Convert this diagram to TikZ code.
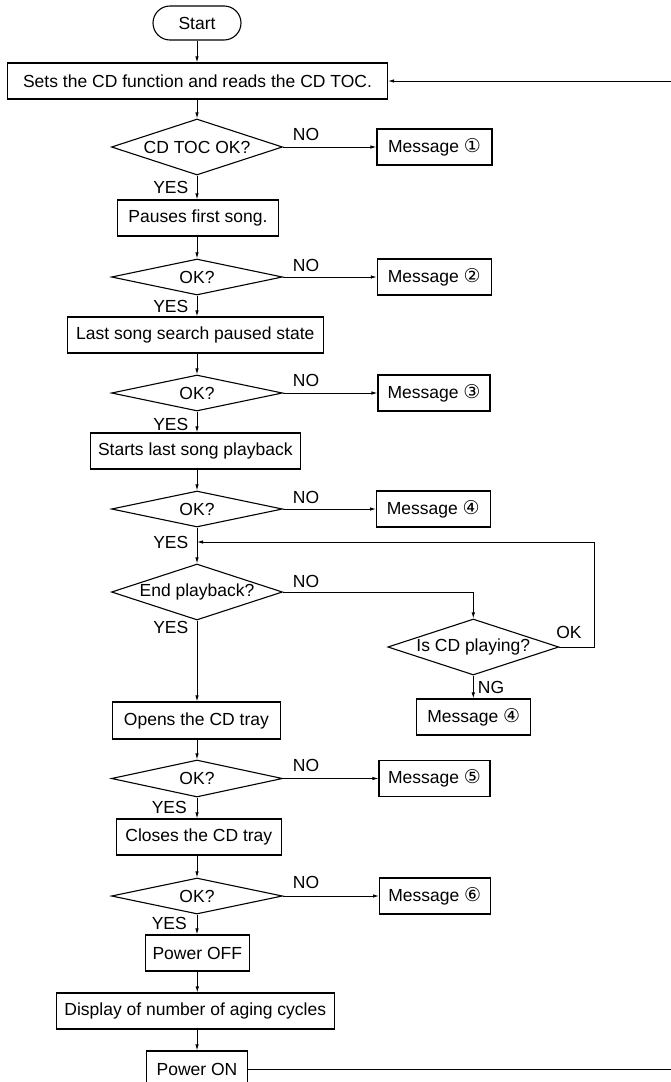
\documentclass[tikz,border=0pt]{standalone}
\usepackage{fontspec}
\setmainfont{Liberation Sans}
\newfontfamily\circfont{DejaVu Sans}
\usetikzlibrary{shapes.geometric,arrows.meta}
\newcommand{\circd}[1]{{\circfont\fontsize{19}{19}\selectfont #1}}
\begin{document}
\begin{tikzpicture}[x=1pt,y=-1pt,
  every node/.style={font=\fontsize{17.5}{21}\selectfont, inner sep=0pt},
  box/.style={draw, line width=1.1pt, minimum height=36pt},
  dec/.style={draw, diamond, line width=1.1pt, aspect=3, minimum width=171pt},
  conn/.style={line width=0.9pt, -{Latex[length=6pt,width=3.5pt]}},
  plain/.style={line width=0.9pt}
]
\useasboundingbox (0,0) rectangle (671,1082);

% main column
\node[box, rounded corners=17pt, minimum width=88pt, minimum height=34pt] (start) at (197,23) {Start};
\node[box, minimum width=380pt] (b1) at (197.5,81) {Sets the CD function and reads the CD TOC.};
\node[dec, minimum height=56pt] (d1) at (197,147) {CD TOC OK?};
\node[box, minimum width=161pt] (b2) at (198,218) {Pauses first song.};
\node[dec, minimum height=36pt] (d2) at (197,277) {OK?};
\node[box, minimum width=255.5pt] (b3) at (195.3,335) {Last song search paused state};
\node[dec, minimum height=36pt] (d3) at (197,393) {OK?};
\node[box, minimum width=210pt] (b4) at (195.3,451) {Starts last song playback};
\node[dec, minimum height=36pt] (d4) at (197,509) {OK?};
\node[dec, minimum height=56pt] (d5) at (197,592) {End playback?};
\node[box, minimum width=168.6pt, minimum height=37pt] (b5) at (196.4,720.5) {Opens the CD tray};
\node[dec, minimum height=37pt] (d7) at (197,778.5) {OK?};
\node[box, minimum width=165pt] (b6) at (198.8,837) {Closes the CD tray};
\node[dec, minimum height=36pt] (d8) at (197,896) {OK?};
\node[box, minimum width=103.5pt] (b7) at (197.3,953) {Power OFF};
\node[box, minimum width=278pt] (b8) at (195.3,1011) {Display of number of aging cycles};
\node[box, minimum width=101.5pt] (b9) at (197,1069) {Power ON};

% side column
\node[box, minimum width=115pt] (m1) at (434.5,147) {Message \circd{①}};
\node[box, minimum width=114pt] (m2) at (434.3,277) {Message \circd{②}};
\node[box, minimum width=112pt] (m3) at (434,393) {Message \circd{③}};
\node[box, minimum width=113.5pt] (m4) at (433.3,509) {Message \circd{④}};
\node[dec, minimum height=56pt] (d6) at (473.3,647) {Is CD playing?};
\node[box, minimum width=114pt] (m4b) at (473.7,717) {Message \circd{④}};
\node[box, minimum width=111pt] (m5) at (434.5,778.5) {Message \circd{⑤}};
\node[box, minimum width=110.5pt] (m6) at (434.8,896) {Message \circd{⑥}};

% labels
\node[anchor=east] (y1) at (188.5,187) {YES};
\node[anchor=east] (y2) at (188.5,306) {YES};
\node[anchor=east] (y3) at (188.5,424) {YES};
\node[anchor=east] (y4) at (188.5,542) {YES};
\node[anchor=east] (y5) at (188.5,627) {YES};
\node[anchor=east] (y7) at (187,807) {YES};
\node[anchor=east] (y8) at (187,923) {YES};
\node (n1) at (306,134) {NO};
\node (n2) at (306,265) {NO};
\node (n3) at (306,380) {NO};
\node (n4) at (306,497) {NO};
\node (n5) at (306,581) {NO};
\node (n7) at (306,765) {NO};
\node (n8) at (306,882) {NO};
\node (ok) at (569,632) {OK};
\node (ng) at (491,687) {NG};

% main connectors
\draw[conn] (start.south) -- (start.south |- b1.north);
\draw[conn] (d1.north |- b1.south) -- (d1.north);
\draw[conn] (d1.south) -- (d1.south |- b2.north);
\draw[conn] (d2.north |- b2.south) -- (d2.north);
\draw[conn] (d2.south) -- (d2.south |- b3.north);
\draw[conn] (d3.north |- b3.south) -- (d3.north);
\draw[conn] (d3.south) -- (d3.south |- b4.north);
\draw[conn] (d4.north |- b4.south) -- (d4.north);
\draw[conn] (d4.south) -- (d5.north);
\draw[conn] (d5.south) -- (d5.south |- b5.north);
\draw[conn] (d7.north |- b5.south) -- (d7.north);
\draw[conn] (d7.south) -- (d7.south |- b6.north);
\draw[conn] (d8.north |- b6.south) -- (d8.north);
\draw[conn] (d8.south) -- (d8.south |- b7.north);
\draw[conn] (b7.south) -- (b7.south |- b8.north);
\draw[conn] (b8.south -| b9.north) -- (b9.north);

% NO branches
\draw[conn] (d1.east) -- (d1.east -| m1.west);
\draw[conn] (d2.east) -- (d2.east -| m2.west);
\draw[conn] (d3.east) -- (d3.east -| m3.west);
\draw[conn] (d4.east) -- (d4.east -| m4.west);
\draw[conn] (d7.east) -- (d7.east -| m5.west);
\draw[conn] (d8.east) -- (d8.east -| m6.west);
\draw[conn] (d5.east) -| (d6.north);
\draw[conn] (d6.south) -- (d6.south |- m4b.north);

% OK loop
\coordinate (jn) at (197,542);
\coordinate (lp) at (594,542);
\draw[conn] (d6.east) -| (lp) -- (jn);

% return loop
\coordinate (rb) at (673,1069);
\coordinate (rt) at (673,81);
\draw[conn] (b9.east) -- (rb) -- (rt) -- (b1.east);
\end{tikzpicture}
\end{document}
